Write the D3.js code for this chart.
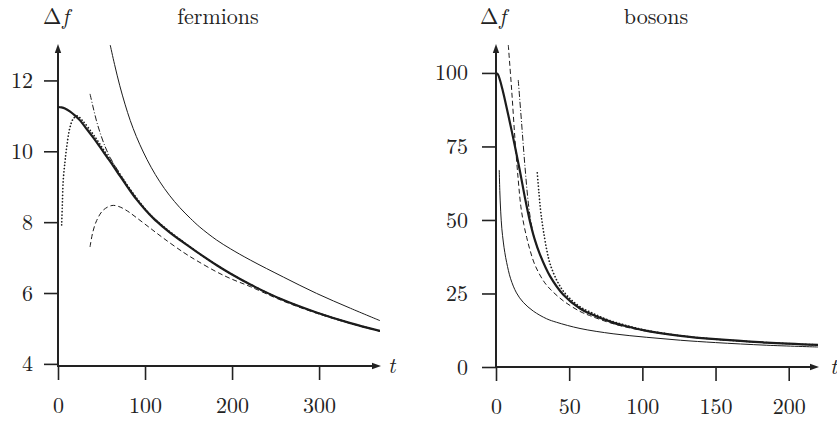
<!DOCTYPE html>
<html>
<head>
<meta charset="utf-8">
<script src="https://cdn.jsdelivr.net/npm/d3@7"></script>
<style>
  html, body { margin: 0; padding: 0; background: #fff; }
  svg text { font-family: "Latin Modern Roman", "CMU Serif", "Liberation Serif", "DejaVu Serif", "Noto Serif", "Times New Roman", Tinos, FreeSerif, serif; fill: #222; }
</style>
</head>
<body>
<svg id="chart" width="837" height="421"></svg>
<script>
// ---- fermions panel: [t, Δf] ----
const fermThick = [[0,11.25],[4,11.24],[8,11.21],[14,11.12],[20,11.0],[25,10.88],[33,10.63],[41,10.37],[48,10.13],
  [56,9.85],[64,9.57],[71,9.31],[80,8.99],[90,8.65],[100,8.36],[110,8.1],[121,7.86],[132,7.64],[144,7.43],[159,7.17],
  [182,6.79],[198,6.55],[221,6.24],[259,5.8],[297,5.45],[336,5.15],[370,4.93]];
const fermThin = [[60,13.0],[65,12.45],[71,11.85],[77,11.33],[83,10.87],[90,10.42],[98,9.98],[107,9.55],[117,9.14],
  [128,8.76],[140,8.41],[152,8.11],[163,7.86],[182,7.5],[198,7.25],[221,6.93],[259,6.45],[297,5.99],[336,5.57],[370,5.22]];
const fermDashed = [[36.8,7.3],[40,7.72],[44.5,8.05],[52,8.34],[62,8.47],[70,8.44],[80,8.31],[90,8.13],[106,7.83],
  [121,7.55],[144,7.15],[159,6.92],[182,6.6],[198,6.41],[221,6.18],[259,5.77],[297,5.43],[336,5.14],[370,4.92]];
const fermDashDot = [[36.8,11.62],[40,11.28],[44,10.88],[48,10.55],[54,10.14],[60,9.82],[71,9.37],[80,9.0],[90,8.66],
  [100,8.37],[121,7.87],[144,7.44],[182,6.79],[221,6.24],[259,5.8],[297,5.45],[336,5.15],[370,4.93]];
const fermDotted = [[4.2,7.92],[5,8.5],[6,9.18],[8,9.7],[10,10.12],[13.8,10.68],[17.6,10.92],[22,11.0],[28,10.87],
  [41,10.46],[56,9.91],[71,9.36],[87,8.79],[106,8.21],[121,7.88],[144,7.44],[182,6.79],[221,6.24],[259,5.8],
  [297,5.45],[336,5.15],[370,4.93]];
const fermXTicks = [0, 100, 200, 300];
const fermYTicks = [4, 6, 8, 10, 12];

// ---- bosons panel ----
const bosThick = [[0,100],[1.2,99.6],[2.7,97.6],[4.3,94.6],[6.1,90.8],[9.6,82.9],[13,74.9],[16.4,66.5],[20,57],
  [23.2,49.5],[26.5,43.3],[30,38.3],[36.9,30.9],[46,24.6],[57.4,19.9],[64,18.2],[80,15.1],[87,14.1],[103,12.3],
  [126,10.6],[150,9.45],[185,8.3],[220,7.5]];
const bosThin = [[2.2,67],[2.6,60],[3.2,53],[4,47],[5,42.5],[6,39],[7.3,35.5],[10,30],[14,25.2],[18.6,22],
  [25.5,19],[34.6,16.4],[41.4,15.2],[57.4,13.1],[80,11.3],[103,10.1],[126,9.1],[150,8.3],[185,7.4],[220,6.8]];
const bosDashed = [[8.4,109.5],[10.7,94.2],[13,77.2],[15.2,63.6],[17,54.5],[19,48.5],[21,44],[23.2,39.8],[26.6,34.7],
  [32.4,29.3],[37,26.5],[46,22.5],[57.4,18.9],[64,17.5],[75.6,15.4],[87,13.8],[103,12.15],[126,10.55],[150,9.4],
  [185,8.27],[220,7.47]];
const bosDashDot = [[15.2,97.6],[17.5,82.9],[19.8,68.1],[22.1,55.7],[24,49],[26.5,43.3],[30,38.3],[36.9,30.9],
  [46,24.6],[57.4,19.9],[80,15.1],[103,12.3],[126,10.6],[150,9.45],[185,8.3],[220,7.5]];
const bosDotted = [[28.2,66],[29.2,60],[30.3,54],[31.3,50],[32.5,46],[34.6,40],[37,35],[41.4,29.6],[46,25.8],
  [51.5,22.8],[58,20.3],[66,18.3],[75.6,16.2],[87,14.4],[103,12.45],[126,10.65],[150,9.45],[185,8.3],[220,7.5]];
const bosXTicks = [0, 50, 100, 150, 200];
const bosYTicks = [0, 25, 50, 75, 100];

const styles = {
  thick:   { width: 2.2, dash: null },
  thin:    { width: 1,   dash: null },
  dashed:  { width: 1,   dash: '5,3' },
  dashdot: { width: 1,   dash: '6,2,1,2' },
  dotted:  { width: 1.7, dash: '0.1,3.2', cap: 'round' },
};

const svg = d3.select('#chart');

function drawPanel(cfg){
  const { id, xDomain, xRange, yDomain, yRange, xTicks, yTicks, series, title, titleX, deltaX, tX, labelGap } = cfg;
  const x = d3.scaleLinear().domain(xDomain).range(xRange);
  const y = d3.scaleLinear().domain(yDomain).range(yRange);
  const g = svg.append('g').attr('class', 'panel ' + id);

  // clip to the plotting area
  g.append('clipPath').attr('id', 'clip-' + id)
    .append('rect')
    .attr('x', xRange[0]).attr('y', yRange[1])
    .attr('width', xRange[1] - xRange[0]).attr('height', yRange[0] - yRange[1]);

  // ticks + labels
  const yAxis = g.append('g').attr('transform', `translate(${xRange[0]},0)`)
    .call(d3.axisLeft(y).tickValues(yTicks).tickSize(14).tickPadding(labelGap).tickFormat(d3.format('d')));
  const xAxis = g.append('g').attr('transform', `translate(0,${yRange[0]})`)
    .call(d3.axisBottom(x).tickValues(xTicks).tickSize(14).tickPadding(17).tickFormat(d3.format('d')));
  [yAxis, xAxis].forEach(a => {
    a.attr('font-family', null);
    a.select('.domain').remove();
    a.selectAll('line').attr('stroke', '#222').attr('stroke-width', 1.6);
    a.selectAll('text').attr('font-size', 22).attr('fill', '#222');
  });

  // axis lines with arrow heads
  const x0 = xRange[0], y0 = yRange[0];
  const xEnd = xRange[1] + 1, yEnd = yRange[1] - 1;
  g.append('line').attr('x1', x0).attr('y1', y0 + 1).attr('x2', x0).attr('y2', yEnd + 6)
    .attr('stroke', '#222').attr('stroke-width', 2);
  g.append('line').attr('x1', x0 - 1).attr('y1', y0).attr('x2', xEnd - 6).attr('y2', y0)
    .attr('stroke', '#222').attr('stroke-width', 2);
  g.append('path').attr('d', `M${x0},${yEnd} L${x0 - 3.2},${yEnd + 9} L${x0 + 3.2},${yEnd + 9} Z`).attr('fill', '#222');
  g.append('path').attr('d', `M${xEnd},${y0} L${xEnd - 9},${y0 - 3.2} L${xEnd - 9},${y0 + 3.2} Z`).attr('fill', '#222');

  // curves
  const line = d3.line().x(d => x(d[0])).y(d => y(d[1])).curve(d3.curveCatmullRom.alpha(0.5));
  const curves = g.append('g').attr('clip-path', `url(#clip-${id})`);
  curves.selectAll('path.curve').data(series).join('path')
    .attr('class', 'curve')
    .attr('d', d => line(d.values))
    .attr('fill', 'none')
    .attr('stroke', '#1c1c1c')
    .attr('stroke-width', d => styles[d.style].width)
    .attr('stroke-dasharray', d => styles[d.style].dash)
    .attr('stroke-linecap', d => styles[d.style].cap || 'butt');

  // labels
  const df = g.append('text').attr('x', deltaX).attr('y', 24).attr('font-size', 22);
  df.append('tspan').text('Δ');
  df.append('tspan').attr('font-style', 'italic').attr('dx', 1).text('f');
  g.append('text').attr('x', titleX).attr('y', 24).attr('text-anchor', 'middle').attr('font-size', 22).text(title);
  g.append('text').attr('x', tX).attr('y', y0 + 7).attr('font-size', 22).attr('font-style', 'italic').text('t');
}

drawPanel({
  id: 'fermions',
  xDomain: [0, 370], xRange: [58, 380],
  yDomain: [3.94, 13.0], yRange: [366, 45],
  xTicks: fermXTicks, yTicks: fermYTicks, labelGap: 11,
  title: 'fermions', titleX: 218, deltaX: 43, tX: 388,
  series: [
    { style: 'thin', values: fermThin },
    { style: 'dashed', values: fermDashed },
    { style: 'dashdot', values: fermDashDot },
    { style: 'dotted', values: fermDotted },
    { style: 'thick', values: fermThick },
  ],
});

drawPanel({
  id: 'bosons',
  xDomain: [0, 220], xRange: [496, 818],
  yDomain: [0, 109.5], yRange: [367, 45],
  xTicks: bosXTicks, yTicks: bosYTicks, labelGap: 14,
  title: 'bosons', titleX: 656, deltaX: 480, tX: 830,
  series: [
    { style: 'thin', values: bosThin },
    { style: 'dashed', values: bosDashed },
    { style: 'dashdot', values: bosDashDot },
    { style: 'dotted', values: bosDotted },
    { style: 'thick', values: bosThick },
  ],
});
</script>
</body>
</html>
